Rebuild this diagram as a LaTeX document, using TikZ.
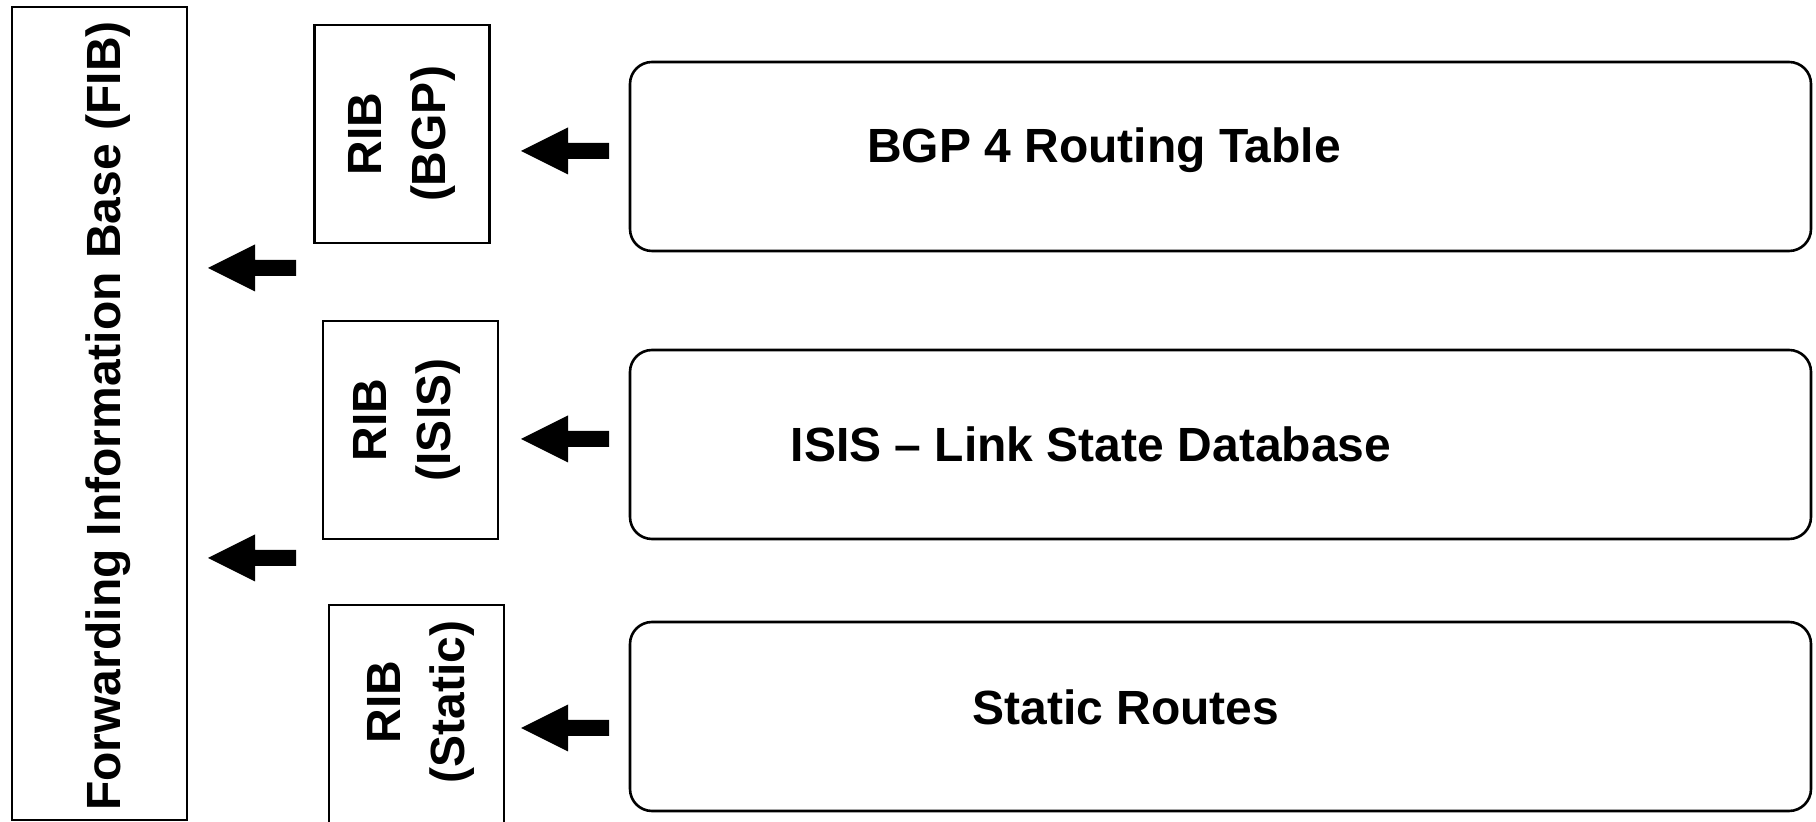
\documentclass[tikz,border=0pt]{standalone}
\usepackage{fontspec}
\setmainfont{Liberation Sans}
\usepackage{graphicx}
\newcommand\blockarrow[1]{\fill[black] (#1) -- ++(47,-23.5) -- ++(0,15.5) -- ++(41,0) -- ++(0,16) -- ++(-41,0) -- ++(0,15.5) -- cycle;}
\begin{document}
\begin{tikzpicture}[x=0.5pt,y=-0.5pt,
  every node/.style={inner sep=0pt, outer sep=0pt},
  sqbox/.style={draw, line width=1.2pt, rectangle},
  bigbox/.style={draw, line width=1.3pt, rounded corners=11pt, rectangle, minimum width=590.5pt, minimum height=94.5pt},
  ribbox/.style={sqbox, minimum width=87.5pt, minimum height=109pt},
  lbl/.style={font=\bfseries\fontsize{24}{32}\selectfont},
  riblbl/.style={lbl, rotate=90, align=center}]
\fill[white] (0,0) rectangle (1816,822);
\useasboundingbox (0,0) rectangle (1816,822);

% FIB
\node[sqbox, minimum width=87.5pt, minimum height=406.5pt] (fib) at (99.5,413.5) {};
\node[lbl, rotate=90, anchor=base] (fibtext) at (120,416) {Forwarding Information Base (FIB)};

% RIB boxes
\node[ribbox] (ribA) at (402,134) {};
\node[ribbox] (ribB) at (410.5,430) {};
\node[ribbox, minimum height=109.5pt] (ribC) at (416.5,714.5) {};
\node[riblbl] (ribAtext) at (402,134) {RIB\\(BGP)};
\node[riblbl] (ribBtext) at (407,420) {RIB\\(ISIS)};
\node[riblbl] (ribCtext) at (421,702) {RIB\\(Static)};

% big boxes
\node[bigbox] (bgp) at (1220.5,156.5) {};
\node[bigbox] (isis) at (1220.5,444.5) {};
\node[bigbox] (static) at (1220.5,716.5) {};
\node[lbl, anchor=base] (bgptext) at (1104,163) {BGP 4 Routing Table};
\node[lbl, anchor=base] (isistext) at (1091,462) {ISIS – Link State Database};
\node[lbl, anchor=base] (statictext) at (1126,725) {Static Routes};

% arrows
\coordinate (t1) at (521,151);
\coordinate (t2) at (521,439);
\coordinate (t3) at (521,728);
\coordinate (f1) at (208,268);
\coordinate (f2) at (208,558);
\blockarrow{t1}
\blockarrow{t2}
\blockarrow{t3}
\blockarrow{f1}
\blockarrow{f2}
\end{tikzpicture}
\end{document}
